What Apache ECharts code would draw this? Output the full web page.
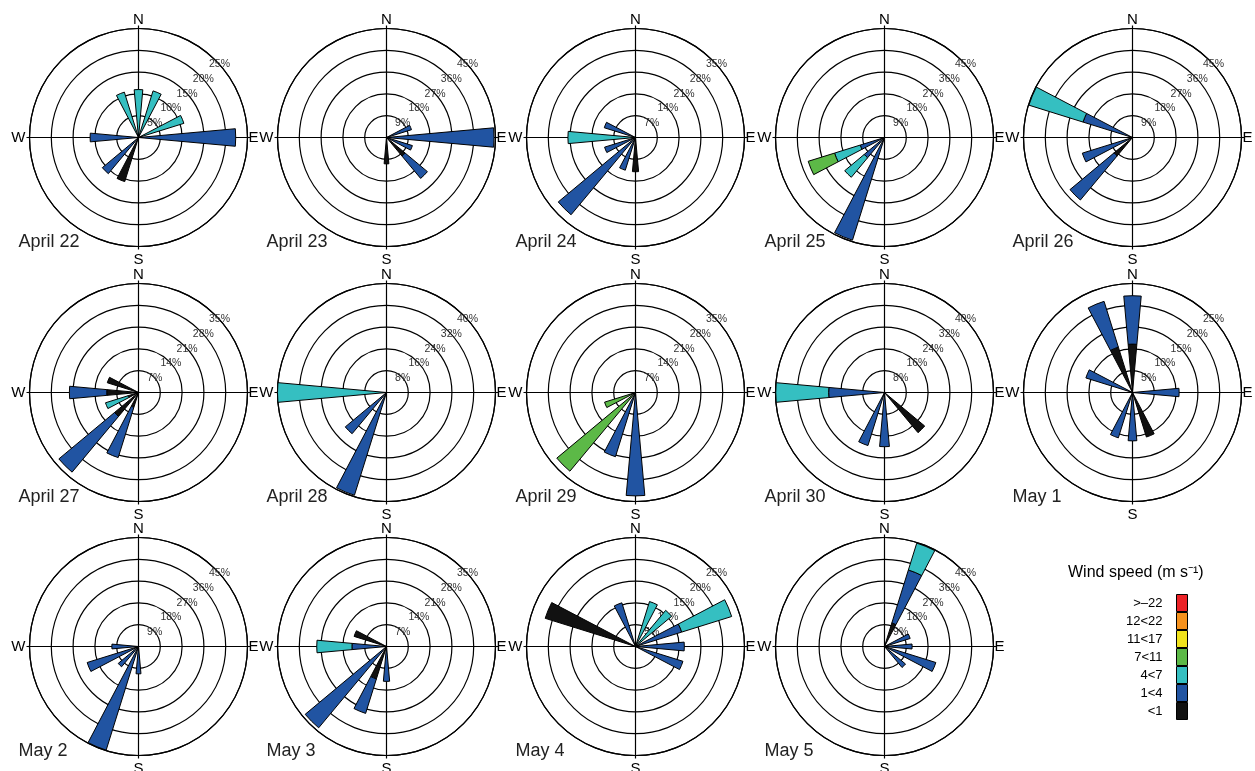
<!DOCTYPE html>
<html><head><meta charset="utf-8">
<script src="https://cdn.jsdelivr.net/npm/echarts@6/dist/echarts.min.js"></script>
<style>html,body{margin:0;padding:0;background:#fff}#c{width:1255px;height:771px}</style>
</head><body><div id="c"></div>
<script>
const DIRS = ['N','NNE','NE','ENE','E','ESE','SE','SSE','S','SSW','SW','WSW','W','WNW','NW','NNW'];
const PANELS = ['April 22','April 23','April 24','April 25','April 26','April 27','April 28','April 29','April 30','May 1','May 2','May 3','May 4','May 5'];
const RING_MAX = [25,45,35,45,45,35,40,35,40,25,45,35,25,45];
const CLASSES = ['<1','1<4','4<7','7<11','11<17','12<22','>–22'];
const COLORS = ['#111111','#2154A2','#35BFC1','#5CB947','#F0E21C','#F6921E','#EC2227'];

// frequency (%) by direction (N..NNW), one row per panel, per wind-speed class
const lt1 = [
 [0,0,0,0,0,0,0,0,0,10.6,0,0,0,0,0,0],
 [0,0,0,0,0,0,10,0,10.9,0,0,0,0,0,0,0],
 [0,0,0,0,0,0,0,0,11.0,0,0,0,0,0,0,0],
 [0,0,0,0,0,0,0,0,0,0,0,0,0,0,0,0],
 [0,0,0,0,0,0,0,0,0,0,9.9,0,0,0,0,0],
 [0,0,0,0,0,0,0,0,0,5,10,3.5,10.2,10.5,0,0],
 [0,0,0,0,0,0,0,0,0,0,0,0,0,0,0,0],
 [0,0,0,0,0,0,0,0,0,0,0,0,0,0,0,0],
 [0,0,0,0,0,0,19.2,0,0,0,0,0,0,0,0,0],
 [11.1,0,0,0,0,0,0,10.7,0,0,0,0,0,0,0,10.9],
 [0,0,0,0,0,0,0,0,0,0,0,0,0,0,0,0],
 [0,0,0,0,0,0,0,0,0,10.9,0,0,0,10.9,0,0],
 [0,0,0,0,0,0,0,0,0,0,0,0,0,21.7,0,0],
 [0,10.2,0,0,0,0,0,0,0,0,0,0,0,0,0,0]
];
const s1to4 = [
 [0,0,0,0,22.3,0,0,0,0,0,10.8,0,11.1,0,0,0],
 [0,0,0,10.8,44.4,11.2,12.0,0,0,0,0,0,0,0,0,0],
 [0,0,0,0,0,0,0,0,0,11.0,32.3,10.4,0,10.5,0,0],
 [0,0,0,0,0,0,0,0,0,44.4,10.9,10.5,0,0,0,0],
 [0,0,0,0,0,0,0,0,0,0,23.7,21.7,0,21.4,0,0],
 [0,0,0,0,0,0,0,0,0,16.9,23.3,0,12.0,0,0,0],
 [0,0,0,0,0,0,0,0,0,39.5,19.7,0,0,0,0,0],
 [0,0,0,0,0,0,0,0,33.2,21.6,0,0,0,0,0,0],
 [0,0,0,0,0,0,0,0,19.9,20.4,0,0,20.5,0,0,0],
 [11.1,0,0,0,10.7,0,0,0,11.1,10.9,0,0,0,11.2,0,11.0],
 [0,0,0,0,0,0,0,0,11.3,44.8,10.9,22.2,11.0,0,0,0],
 [0,0,0,0,0,0,0,0,11.2,11.6,34.0,0,11.1,0,0,0],
 [0,0,0,11.1,11.2,11.4,0,0,0,0,0,0,0,0,0,10.5],
 [0,22.9,0,11.1,11.4,22.2,11.3,0,0,0,0,0,0,0,0,0]
];
const s4to7 = [
 [11.0,11.2,0,10.9,0,0,0,0,0,0,0,0,0,0,0,10.9],
 [0,0,0,0,0,0,0,0,0,0,0,0,0,0,0,0],
 [0,0,0,0,0,0,0,0,0,0,0,0,21.7,0,0,0],
 [0,0,0,0,0,0,0,0,0,0,10.5,11.1,0,0,0,0],
 [0,0,0,0,0,0,0,0,0,0,0,0,0,23.4,0,0],
 [0,0,0,0,0,0,0,0,0,0,0,7.6,0,0,0,0],
 [0,0,0,0,0,0,0,0,0,0,0,0,40.0,0,0,0],
 [0,0,0,0,0,0,0,0,0,0,0,0,0,0,0,0],
 [0,0,0,0,0,0,0,0,0,0,0,0,19.4,0,0,0],
 [0,0,0,0,0,0,0,0,0,0,0,0,0,0,0,0],
 [0,0,0,0,0,0,0,0,0,0,0,0,0,0,0,0],
 [0,0,0,0,0,0,0,0,0,0,0,0,11.3,0,0,0],
 [0,10.8,10.8,12.0,0,0,0,0,0,0,0,0,0,0,0,0],
 [0,11.6,0,0,0,0,0,0,0,0,0,0,0,0,0,0]
];
const s7to11 = [
 [0,0,0,0,0,0,0,0,0,0,0,0,0,0,0,0],
 [0,0,0,0,0,0,0,0,0,0,0,0,0,0,0,0],
 [0,0,0,0,0,0,0,0,0,0,0,0,0,0,0,0],
 [0,0,0,0,0,0,0,0,0,0,0,11.4,0,0,0,0],
 [0,0,0,0,0,0,0,0,0,0,0,0,0,0,0,0],
 [0,0,0,0,0,0,0,0,0,0,0,0,0,0,0,0],
 [0,0,0,0,0,0,0,0,0,0,0,0,0,0,0,0],
 [0,0,0,0,0,0,0,0,0,0,32.9,10.4,0,0,0,0],
 [0,0,0,0,0,0,0,0,0,0,0,0,0,0,0,0],
 [0,0,0,0,0,0,0,0,0,0,0,0,0,0,0,0],
 [0,0,0,0,0,0,0,0,0,0,0,0,0,0,0,0],
 [0,0,0,0,0,0,0,0,0,0,0,0,0,0,0,0],
 [0,0,0,0,0,0,0,0,0,0,0,0,0,0,0,0],
 [0,0,0,0,0,0,0,0,0,0,0,0,0,0,0,0]
];
const CLASS_DATA = [lt1, s1to4, s4to7, s7to11, null, null, null];

const COL_X = [138.5, 386.5, 635.5, 884.5, 1132.5];
const ROW_Y = [137.5, 392.5, 646.5];
const R = 109;
const FONT = 'Liberation Sans, Arial, sans-serif';
const COMPASS = {0:'{n|N}', 90:'{e|E}', 180:'{s|S}', 270:'{w|W}'};
const LINE = {color: '#000', width: 1.2};

const polar = [], angleAxis = [], radiusAxis = [], series = [], title = [];
PANELS.forEach((name, i) => {
  const col = i < 10 ? i % 5 : i - 10;
  const row = i < 10 ? Math.floor(i / 5) : 2;
  const cx = COL_X[col], cy = ROW_Y[row];
  const M = RING_MAX[i];
  const pa = 3 * i, pb = 3 * i + 1, pc = 3 * i + 2;
  // A: bars + rings
  polar.push({center: [cx, cy], radius: R});
  angleAxis.push({polarIndex: pa, type: 'category', data: DIRS, startAngle: 101.25, clockwise: true,
    axisLine: {show: true, lineStyle: LINE}, axisTick: {show: false},
    axisLabel: {show: false}, splitLine: {show: false}});
  radiusAxis.push({polarIndex: pa, type: 'value', min: 0, max: M, interval: M / 5,
    axisLine: {show: false}, axisTick: {show: false}, axisLabel: {show: false},
    splitLine: {show: true, lineStyle: LINE}});
  // B: cross lines + compass letters
  polar.push({center: [cx, cy], radius: R + 3});
  angleAxis.push({polarIndex: pb, type: 'value', min: 0, max: 360, interval: 90, startAngle: 90, clockwise: true,
    axisLine: {show: false}, axisTick: {show: false},
    axisLabel: {show: true, margin: -2, fontSize: 15, color: '#000', fontFamily: FONT,
      formatter: v => COMPASS[v] || '',
      rich: {
        n: {fontSize: 15, color: '#000', fontFamily: FONT},
        e: {fontSize: 15, color: '#000', fontFamily: FONT},
        s: {fontSize: 15, color: '#000', fontFamily: FONT, padding: [5, 0, 0, 0]},
        w: {fontSize: 15, color: '#000', fontFamily: FONT, padding: [0, 3, 0, 0]}
      }},
    splitLine: {show: true, lineStyle: LINE}});
  radiusAxis.push({polarIndex: pb, type: 'value', min: 0, max: 1, axisLine: {show: false},
    axisTick: {show: false}, axisLabel: {show: false}, splitLine: {show: false}});
  // C: percentage labels along NE diagonal
  polar.push({center: [cx, cy], radius: R});
  angleAxis.push({polarIndex: pc, type: 'value', min: 0, max: 360, startAngle: 42,
    axisLine: {show: false}, axisTick: {show: false}, axisLabel: {show: false}, splitLine: {show: false}});
  radiusAxis.push({polarIndex: pc, type: 'value', min: 0, max: M, interval: M / 5,
    axisLine: {show: false}, axisTick: {show: false}, splitLine: {show: false},
    axisLabel: {show: true, showMinLabel: false, margin: 0, align: 'center', verticalAlign: 'middle',
      formatter: '{value}%', fontSize: 10.5, color: '#333', fontFamily: FONT}});
  title.push({text: name, left: cx - 120, top: cy + 96, padding: 0,
    textStyle: {fontSize: 18, fontWeight: 'normal', color: '#222', fontFamily: FONT}});
  CLASSES.forEach((cls, k) => {
    const src = CLASS_DATA[k];
    const vals = src ? src[i] : DIRS.map(() => 0);
    series.push({type: 'bar', name: cls, coordinateSystem: 'polar', polarIndex: pa, stack: 'p' + i,
      data: vals.map(v => v > 0 ? v : null), barWidth: '46%', silent: true,
      itemStyle: {color: COLORS[k], borderColor: '#000', borderWidth: 1}});
  });
});
title.push({text: 'Wind speed (m s⁻¹)', left: 1068, top: 565, padding: 0,
  textStyle: {fontSize: 16, fontWeight: 'normal', color: '#000', fontFamily: FONT}});

const chart = echarts.init(document.getElementById('c'), null, {renderer: 'canvas'});
chart.setOption({
  animation: false,
  backgroundColor: '#fff',
  textStyle: {fontFamily: FONT},
  title, polar, angleAxis, radiusAxis, series,
  legend: {data: CLASSES.slice().reverse(), orient: 'vertical', align: 'right', right: 67, top: 594,
    itemWidth: 11, itemHeight: 17, itemGap: 0, padding: 0, icon: 'rect', selectedMode: false,
    textStyle: {fontSize: 13, color: '#000', fontFamily: FONT, padding: [0, 9, 0, 0]},
    itemStyle: {borderColor: '#000', borderWidth: 1}}
});
</script></body></html>
